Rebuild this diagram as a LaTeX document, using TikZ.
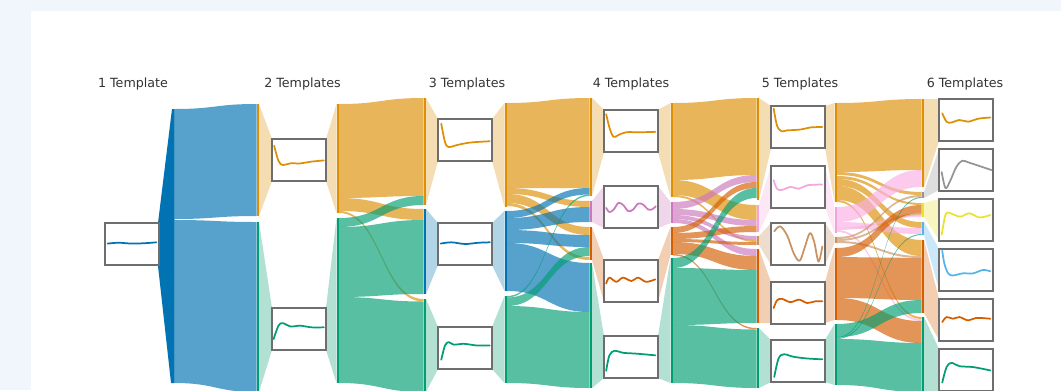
\documentclass[tikz,border=0pt]{standalone}
\usepackage{fontspec}
\setmainfont{DejaVu Sans}
\definecolor{cB}{HTML}{0173B2}
\definecolor{cO}{HTML}{DE8F05}
\definecolor{cG}{HTML}{029E73}
\definecolor{cV}{HTML}{D55E00}
\definecolor{cP}{HTML}{CC78BC}
\definecolor{cK}{HTML}{FBAFE4}
\definecolor{cN}{HTML}{CA9161}
\definecolor{cY}{HTML}{ECE133}
\definecolor{cL}{HTML}{56B4E9}
\definecolor{cA}{HTML}{949494}
\definecolor{bgc}{HTML}{F0F6FC}
\definecolor{boxc}{HTML}{6E6E6E}
\definecolor{txtc}{HTML}{333333}
% flow band: x1 s1 s2 x2 t1 t2 colour
\newcommand\sflow[7]{%
  \fill[#7, fill opacity=0.66] (#1,#2) .. controls ({(#1+#4)/2},#2) and ({(#1+#4)/2},#5) .. (#4,#5)
    -- (#4,#6) .. controls ({(#1+#4)/2},#6) and ({(#1+#4)/2},#3) .. (#1,#3) -- cycle;}
% fan: x1 a1 a2 x2 b1 b2 colour
\newcommand\sfan[7]{%
  \fill[#7, fill opacity=0.3] (#1,#2) -- (#4,#5) -- (#4,#6) -- (#1,#3) -- cycle;}
% bar: x y1 y2 colour
\newcommand\sbar[4]{\fill[#4] (#1,#2) rectangle ({#1+2.7},#3);}
% template box: name x0 y0 colour coords
\newcommand\tbox[5]{%
  \begin{scope}[shift={(#2,#3)}, x=40.5pt, y=-31.5pt]
    \node[tboxst, anchor=north west] (#1) at (0,0) {};
    \draw[#4, line width=1.3pt, line cap=round, line join=round] plot[smooth, tension=0.55] coordinates {#5};
  \end{scope}}
\tikzset{
  tboxst/.style={draw=boxc, fill=white, line width=1pt, minimum width=40.5pt, minimum height=31.5pt, inner sep=0pt, outer sep=0pt},
  ttl/.style={text=txtc, font=\fontsize{9.5}{11}\selectfont, anchor=base, inner sep=0pt}
}
\begin{document}
\begin{tikzpicture}[x=0.75pt, y=-0.75pt]
\useasboundingbox (0,0) rectangle (1061,390);
\fill[bgc] (0,0) rectangle (1061,390);
\fill[white] (31,11) rectangle (1061,392);

% titles
\node[ttl] (t1) at (133,87) {1 Template};
\node[ttl] (t2) at (302.5,87) {2 Templates};
\node[ttl] (t3) at (467,87) {3 Templates};
\node[ttl] (t4) at (631,87) {4 Templates};
\node[ttl] (t5) at (800,87) {5 Templates};
\node[ttl] (t6) at (965,87) {6 Templates};

% ---------- flows 1 -> 2
\sflow{174.5}{109}{219}{256.5}{104}{216}{cB}
\sflow{174.5}{220}{383}{256.5}{222}{392}{cB}

% ---------- flows 2 -> 3
\sflow{339}{104}{198}{423.5}{98}{196}{cO}
\sflow{339}{198}{211}{423.5}{209}{220}{cO}
\sflow{339}{211}{213}{423.5}{299}{301.5}{cO}
\sflow{339}{218}{227}{423.5}{196}{205}{cG}
\sflow{339}{227}{297}{423.5}{220}{294}{cG}
\sflow{339}{297}{383}{423.5}{301.5}{392}{cG}

% ---------- flows 3 -> 4
\sflow{507}{103}{188}{589.5}{98}{188}{cO}
\sflow{507}{188}{194}{589.5}{201}{207}{cO}
\sflow{507}{194}{203}{589.5}{227}{235}{cO}
\sflow{507}{203}{206}{589.5}{257}{260}{cO}
\sflow{507}{211}{218}{589.5}{188}{194.5}{cB}
\sflow{507}{218}{230}{589.5}{207}{222}{cB}
\sflow{507}{230}{243}{589.5}{235}{247}{cB}
\sflow{507}{243}{291}{589.5}{263}{312}{cB}
\sflow{507}{296}{297.5}{589.5}{194.5}{196}{cG}
\sflow{507}{297.5}{306}{589.5}{247}{256}{cG}
\sflow{507}{306}{383}{589.5}{312}{388}{cG}

% ---------- flows 4 -> 5
\sflow{673}{103}{180}{756.5}{98}{175}{cO}
\sflow{673}{180}{195}{756.5}{205}{220}{cO}
\sflow{673}{195}{197}{756.5}{240}{242}{cO}
\sflow{673}{202}{209}{756.5}{175}{182}{cP}
\sflow{673}{209}{215}{756.5}{220}{226}{cP}
\sflow{673}{215}{219}{756.5}{236}{240}{cP}
\sflow{673}{219}{223}{756.5}{249}{256}{cP}
\sflow{673}{227}{233}{756.5}{182}{188}{cV}
\sflow{673}{233}{239}{756.5}{226}{232}{cV}
\sflow{673}{239}{242}{756.5}{242}{245}{cV}
\sflow{673}{242}{254}{756.5}{256}{270}{cV}
\sflow{673}{254}{255.5}{756.5}{328}{329.5}{cV}
\sflow{673}{258}{268}{756.5}{188}{198}{cG}
\sflow{673}{268}{325}{756.5}{270}{323}{cG}
\sflow{673}{325}{383}{756.5}{329.5}{388}{cG}

% ---------- flows 5 -> 6
\sflow{837}{103}{172}{921.5}{99}{170}{cO}
\sflow{837}{172}{175}{921.5}{192}{195}{cO}
\sflow{837}{176}{179}{921.5}{203}{205}{cO}
\sflow{837}{179}{186}{921.5}{222}{228}{cO}
\sflow{837}{186}{200}{921.5}{240}{256}{cO}
\sflow{837}{200}{202}{921.5}{317}{319}{cO}
\sflow{837}{207}{222}{921.5}{170}{187}{cK}
\sflow{837}{222}{228}{921.5}{228}{234}{cK}
\sflow{837}{228}{230}{921.5}{215}{217}{cK}
\sflow{837}{230}{232}{921.5}{319}{321}{cK}
\sflow{837}{237}{239}{921.5}{195}{197}{cN}
\sflow{837}{239}{241}{921.5}{213}{215}{cN}
\sflow{837}{241}{243}{921.5}{256}{258}{cN}
\sflow{837}{248}{257}{921.5}{205}{213}{cV}
\sflow{837}{257}{298}{921.5}{258}{300}{cV}
\sflow{837}{298}{320}{921.5}{321}{343}{cV}
\sflow{837}{324}{337}{921.5}{300}{313}{cG}
\sflow{837}{337}{338}{921.5}{197}{198}{cG}
\sflow{837}{338}{339}{921.5}{234}{235}{cG}
\sflow{837}{339}{385}{921.5}{343}{392}{cG}

% ---------- column 1
\fill[cB] (158,223) -- (172,109) -- (174.5,109) -- (174.5,383) -- (171,383) -- (158,266) -- cycle;

% ---------- column 2
\sfan{259}{104}{216}{272}{139}{181}{cO}
\sfan{326}{139}{181}{336.5}{104}{213}{cO}
\sfan{259}{222}{392}{272}{308}{350}{cG}
\sfan{326}{308}{350}{336.5}{218}{383}{cG}
\sbar{256.5}{104}{216}{cO}
\sbar{256.5}{222}{392}{cG}
\sbar{336.5}{104}{213}{cO}
\sbar{336.5}{218}{383}{cG}

% ---------- column 3
\sfan{426}{98}{205}{438}{119}{161}{cO}
\sfan{492}{119}{161}{504.5}{103}{207}{cO}
\sfan{426}{209}{294}{438}{223}{265}{cB}
\sfan{492}{223}{265}{504.5}{211}{291}{cB}
\sfan{426}{299}{392}{438}{327}{369}{cG}
\sfan{492}{327}{369}{504.5}{296}{383}{cG}
\sbar{423.5}{98}{205}{cO}
\sbar{423.5}{209}{294}{cB}
\sbar{423.5}{299}{392}{cG}
\sbar{504.5}{103}{207}{cO}
\sbar{504.5}{211}{291}{cB}
\sbar{504.5}{296}{383}{cG}

% ---------- column 4
\sfan{592}{98}{196}{604}{110}{152}{cO}
\sfan{658}{110}{152}{670.5}{103}{197}{cO}
\sfan{592}{201}{222}{604}{186}{228}{cP}
\sfan{658}{186}{228}{670.5}{202}{223}{cP}
\sfan{592}{227}{260}{604}{260}{302}{cV}
\sfan{658}{260}{302}{670.5}{227}{255}{cV}
\sfan{592}{263}{388}{604}{336}{378}{cG}
\sfan{658}{336}{378}{670.5}{258}{383}{cG}
\sbar{589.5}{98}{196}{cO}
\sbar{589.5}{201}{222}{cP}
\sbar{589.5}{227}{260}{cV}
\sbar{589.5}{263}{388}{cG}
\sbar{670.5}{103}{197}{cO}
\sbar{670.5}{202}{223}{cP}
\sbar{670.5}{227}{255}{cV}
\sbar{670.5}{258}{383}{cG}

% ---------- column 5
\sfan{759}{98}{200}{771}{106}{148}{cO}
\sfan{825}{106}{148}{834.5}{103}{202}{cO}
\sfan{759}{205}{232}{771}{166}{207}{cK}
\sfan{825}{166}{207}{834.5}{207}{233}{cK}
\sfan{759}{236}{245}{771}{223}{265}{cN}
\sfan{825}{223}{265}{834.5}{237}{243}{cN}
\sfan{759}{249}{323}{771}{282}{323}{cV}
\sfan{825}{282}{323}{834.5}{248}{320}{cV}
\sfan{759}{328}{388}{771}{340}{382}{cG}
\sfan{825}{340}{382}{834.5}{324}{385}{cG}
\sbar{756.5}{98}{200}{cO}
\sbar{756.5}{205}{232}{cK!80!cP}
\sbar{756.5}{236}{245}{cN}
\sbar{756.5}{249}{323}{cV}
\sbar{756.5}{328}{388}{cG}
\sbar{834.5}{103}{202}{cO}
\sbar{834.5}{207}{233}{cK!80!cP}
\sbar{834.5}{237}{243}{cN}
\sbar{834.5}{248}{320}{cV}
\sbar{834.5}{324}{385}{cG}

% ---------- column 6
\sfan{924}{99}{187}{939}{99}{141}{cO}
\sfan{924}{192}{198}{939}{149}{190}{cA}
\sfan{924}{203}{217}{939}{199}{240}{cY}
\sfan{924}{222}{235}{939}{249}{290}{cL}
\sfan{924}{240}{313}{939}{299}{340}{cV}
\sfan{924}{317}{392}{939}{349}{392}{cG}
\sbar{921.5}{99}{187}{cO}
\sbar{921.5}{192}{198}{cA}
\sbar{921.5}{203}{217}{cY}
\sbar{921.5}{222}{235}{cL}
\sbar{921.5}{240}{313}{cV}
\sbar{921.5}{317}{392}{cG}

% ---------- template boxes
\tbox{b1}{105}{223}{cB}{(0.05,0.49) (0.25,0.47) (0.5,0.49) (0.75,0.48) (0.95,0.46)}
\tbox{b2o}{272}{139}{cO}{(0.04,0.16) (0.12,0.52) (0.2,0.62) (0.34,0.58) (0.53,0.58) (0.72,0.54) (0.96,0.51)}
\tbox{b2g}{272}{308}{cG}{(0.03,0.74) (0.12,0.42) (0.2,0.36) (0.34,0.44) (0.53,0.42) (0.72,0.46) (0.96,0.46)}
\tbox{b3o}{438}{119}{cO}{(0.06,0.11) (0.13,0.55) (0.2,0.67) (0.35,0.62) (0.6,0.56) (0.96,0.53)}
\tbox{b3b}{438}{223}{cB}{(0.05,0.49) (0.25,0.46) (0.5,0.5) (0.75,0.47) (0.96,0.46)}
\tbox{b3g}{438}{327}{cG}{(0.06,0.78) (0.13,0.44) (0.2,0.36) (0.29,0.42) (0.48,0.4) (0.72,0.44) (0.96,0.44)}
\tbox{b4o}{604}{110}{cO}{(0.04,0.1) (0.11,0.46) (0.18,0.64) (0.26,0.6) (0.41,0.53) (0.66,0.53) (0.95,0.52)}
\tbox{b4p}{604}{186}{cP}{(0.04,0.52) (0.1,0.62) (0.18,0.56) (0.27,0.4) (0.36,0.46) (0.45,0.6) (0.54,0.56) (0.63,0.42) (0.72,0.44) (0.82,0.56) (0.9,0.55) (0.96,0.48)}
\tbox{b4v}{604}{260}{cV}{(0.04,0.56) (0.1,0.42) (0.23,0.52) (0.35,0.42) (0.51,0.5) (0.63,0.42) (0.78,0.52) (0.95,0.46)}
\tbox{b4g}{604}{336}{cG}{(0.04,0.83) (0.1,0.46) (0.2,0.35) (0.35,0.4) (0.6,0.42) (0.95,0.46)}
\tbox{b5o}{771}{106}{cO}{(0.05,0.06) (0.11,0.46) (0.19,0.6) (0.3,0.58) (0.55,0.56) (0.73,0.51) (0.95,0.5)}
\tbox{b5k}{771}{166}{cK!85!cP}{(0.05,0.34) (0.11,0.54) (0.2,0.57) (0.36,0.5) (0.52,0.54) (0.67,0.46) (0.95,0.44)}
\tbox{b5n}{771}{223}{cN}{(0.06,0.2) (0.17,0.08) (0.3,0.3) (0.42,0.72) (0.53,0.9) (0.62,0.6) (0.72,0.24) (0.8,0.45) (0.88,0.92) (0.95,0.56)}
\tbox{b5v}{771}{282}{cV}{(0.05,0.62) (0.11,0.44) (0.2,0.4) (0.36,0.48) (0.52,0.42) (0.67,0.5) (0.82,0.46) (0.95,0.46)}
\tbox{b5g}{771}{340}{cG}{(0.06,0.88) (0.14,0.44) (0.24,0.34) (0.42,0.4) (0.67,0.44) (0.95,0.46)}
\tbox{b6o}{939}{99}{cO}{(0.06,0.34) (0.14,0.54) (0.23,0.56) (0.38,0.5) (0.54,0.54) (0.72,0.47) (0.95,0.44)}
\tbox{b6a}{939}{149}{cA}{(0.05,0.55) (0.12,0.93) (0.21,0.75) (0.32,0.43) (0.43,0.28) (0.57,0.33) (0.97,0.5)}
\tbox{b6y}{939}{199}{cY}{(0.05,0.85) (0.11,0.42) (0.16,0.32) (0.25,0.36) (0.4,0.42) (0.56,0.34) (0.75,0.44) (0.95,0.38)}
\tbox{b6l}{939}{249}{cL}{(0.06,0.04) (0.1,0.35) (0.17,0.58) (0.26,0.63) (0.44,0.58) (0.63,0.58) (0.81,0.5) (0.95,0.53)}
\tbox{b6v}{939}{299}{cV}{(0.06,0.55) (0.14,0.43) (0.26,0.47) (0.38,0.43) (0.54,0.51) (0.69,0.45) (0.95,0.47)}
\tbox{b6g}{939}{349}{cG}{(0.06,0.8) (0.14,0.43) (0.23,0.33) (0.38,0.41) (0.63,0.43) (0.95,0.51)}
\end{tikzpicture}
\end{document}
